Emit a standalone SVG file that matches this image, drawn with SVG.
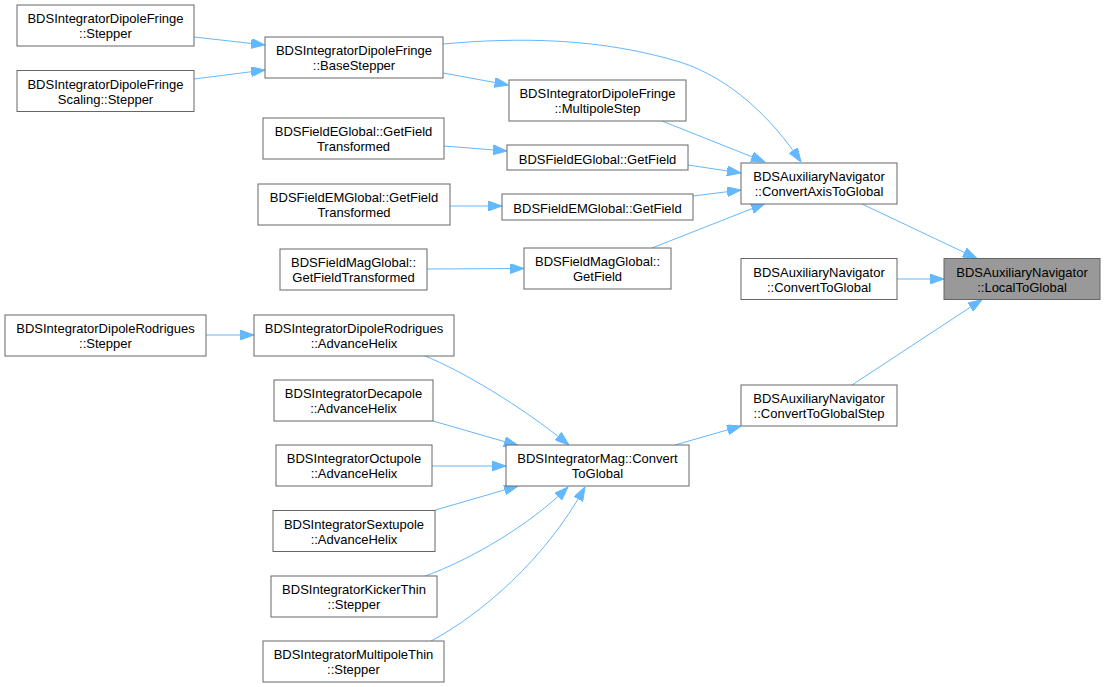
<svg xmlns="http://www.w3.org/2000/svg" width="1105" height="687" viewBox="0 0 1105 687">
<style>
.n rect{fill:#ffffff;stroke:#666666;stroke-width:1}
.n.h rect{fill:#999999}
.n text{font-family:"Liberation Sans",Arial,Helvetica,sans-serif;font-size:13px;fill:#000000;text-anchor:middle}
.e path{fill:none;stroke:#63b8ff;stroke-width:1;marker-end:url(#ah)}
</style>
<defs>
<marker id="ah" markerUnits="userSpaceOnUse" markerWidth="14" markerHeight="10" refX="14" refY="5" orient="auto">
<path d="M0,0 L14,5 L0,10 z" fill="#63b8ff" stroke="#63b8ff" stroke-width="1"/>
</marker>
</defs>
<rect x="0" y="0" width="1105" height="687" fill="#ffffff"/>
<g id="edges" class="e">
<path d="M194,37 L265,45"/>
<path d="M194,79 L265,70"/>
<path d="M443,73 L508.5,85"/>
<path d="M443,44 C520,37 600,38 680,62 C730,78 772,118 801,162"/>
<path d="M662,121 L765,162"/>
<path d="M444,146 L507,151"/>
<path d="M688,165 L741,173"/>
<path d="M450,206 L502,206"/>
<path d="M693,196 L741,190"/>
<path d="M427,269 L524,268.5"/>
<path d="M652,248 L765,203.5"/>
<path d="M862,204 L977,258.5"/>
<path d="M897,279 L944,279"/>
<path d="M852,385 L982,299.5"/>
<path d="M206,335 L254,335"/>
<path d="M425,356 C460,370 520,405 569,445"/>
<path d="M433,421 L518,445.5"/>
<path d="M432,466 L506,466"/>
<path d="M432,511 L518,486"/>
<path d="M425,576 C470,560 530,525 568,487"/>
<path d="M431,641 C480,615 545,560 585,487"/>
<path d="M675,445 L741,426"/>
</g>
<g id="n1" class="n"><rect x="17" y="5" width="177" height="41"/><text x="105.5" y="23.3">BDSIntegratorDipoleFringe</text><text x="105.5" y="38.3">::Stepper</text></g>
<g id="n2" class="n"><rect x="17" y="70.5" width="177" height="41"/><text x="105.5" y="88.8">BDSIntegratorDipoleFringe</text><text x="105.5" y="103.8">Scaling::Stepper</text></g>
<g id="n3" class="n"><rect x="265" y="37" width="178" height="41"/><text x="354" y="55.3">BDSIntegratorDipoleFringe</text><text x="354" y="70.3">::BaseStepper</text></g>
<g id="n4" class="n"><rect x="263" y="118" width="181" height="41"/><text x="353.5" y="136.3">BDSFieldEGlobal::GetField</text><text x="353.5" y="151.3">Transformed</text></g>
<g id="n5" class="n"><rect x="258" y="184" width="192" height="41"/><text x="354" y="202.3">BDSFieldEMGlobal::GetField</text><text x="354" y="217.3">Transformed</text></g>
<g id="n6" class="n"><rect x="280" y="249" width="147" height="41"/><text x="353.5" y="267.3">BDSFieldMagGlobal::</text><text x="353.5" y="282.3">GetFieldTransformed</text></g>
<g id="n7" class="n"><rect x="509" y="80" width="177" height="41"/><text x="597.5" y="98.3">BDSIntegratorDipoleFringe</text><text x="597.5" y="113.3">::MultipoleStep</text></g>
<g id="n8" class="n"><rect x="507" y="145" width="181" height="25"/><text x="597.5" y="164">BDSFieldEGlobal::GetField</text></g>
<g id="n9" class="n"><rect x="502" y="194" width="191" height="26"/><text x="597.5" y="213">BDSFieldEMGlobal::GetField</text></g>
<g id="n10" class="n"><rect x="524" y="248" width="147" height="41"/><text x="597.5" y="266.3">BDSFieldMagGlobal::</text><text x="597.5" y="281.3">GetField</text></g>
<g id="n11" class="n"><rect x="741" y="163" width="156" height="41"/><text x="819" y="181.3">BDSAuxiliaryNavigator</text><text x="819" y="196.3">::ConvertAxisToGlobal</text></g>
<g id="n12" class="n"><rect x="741" y="258.5" width="156" height="41"/><text x="819" y="276.8">BDSAuxiliaryNavigator</text><text x="819" y="291.8">::ConvertToGlobal</text></g>
<g id="n13" class="n h"><rect x="944" y="258.5" width="156" height="41"/><text x="1022" y="276.8">BDSAuxiliaryNavigator</text><text x="1022" y="291.8">::LocalToGlobal</text></g>
<g id="n14" class="n"><rect x="741" y="385" width="156" height="41"/><text x="819" y="403.3">BDSAuxiliaryNavigator</text><text x="819" y="418.3">::ConvertToGlobalStep</text></g>
<g id="n15" class="n"><rect x="506" y="445" width="183" height="41"/><text x="597.5" y="463.3">BDSIntegratorMag::Convert</text><text x="597.5" y="478.3">ToGlobal</text></g>
<g id="n16" class="n"><rect x="5" y="315" width="201" height="41"/><text x="105.5" y="333.3">BDSIntegratorDipoleRodrigues</text><text x="105.5" y="348.3">::Stepper</text></g>
<g id="n17" class="n"><rect x="254" y="315" width="200" height="41"/><text x="354" y="333.3">BDSIntegratorDipoleRodrigues</text><text x="354" y="348.3">::AdvanceHelix</text></g>
<g id="n18" class="n"><rect x="274" y="380" width="159" height="41"/><text x="353.5" y="398.3">BDSIntegratorDecapole</text><text x="353.5" y="413.3">::AdvanceHelix</text></g>
<g id="n19" class="n"><rect x="276" y="445" width="156" height="41"/><text x="354" y="463.3">BDSIntegratorOctupole</text><text x="354" y="478.3">::AdvanceHelix</text></g>
<g id="n20" class="n"><rect x="273" y="510.5" width="162" height="41"/><text x="354" y="528.8">BDSIntegratorSextupole</text><text x="354" y="543.8">::AdvanceHelix</text></g>
<g id="n21" class="n"><rect x="271" y="576" width="166" height="41"/><text x="354" y="594.3">BDSIntegratorKickerThin</text><text x="354" y="609.3">::Stepper</text></g>
<g id="n22" class="n"><rect x="263" y="641" width="181" height="41"/><text x="353.5" y="659.3">BDSIntegratorMultipoleThin</text><text x="353.5" y="674.3">::Stepper</text></g>
</svg>
